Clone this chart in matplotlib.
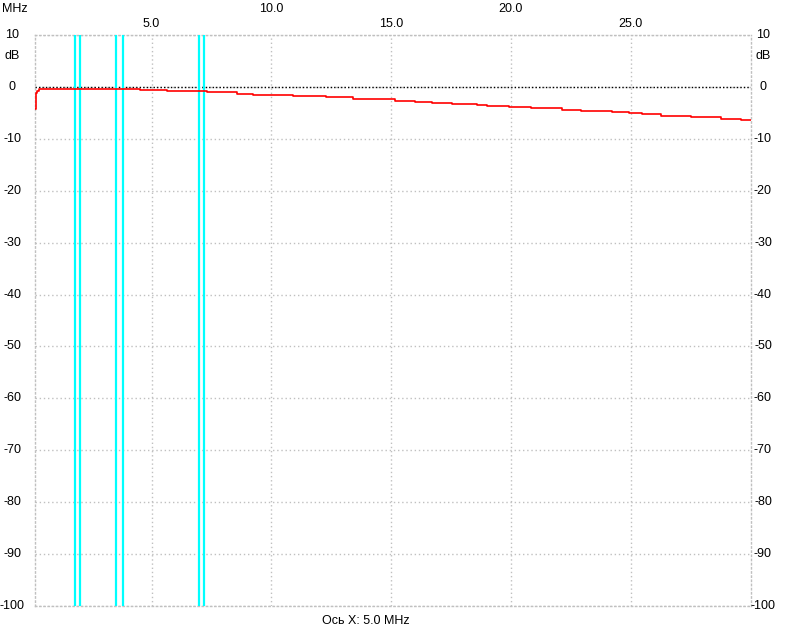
import matplotlib
matplotlib.use('Agg')
import numpy as np
from matplotlib import pyplot as plt
from matplotlib.transforms import blended_transform_factory

plt.rcParams['font.family'] = ['Liberation Sans', 'DejaVu Sans']
plt.rcParams['axes.unicode_minus'] = False

# АЧХ, ступенчатая кривая (МГц, дБ)
freq_mhz = [0.146, 0.16, 0.22, 0.31, 4.52, 5.65, 7.31, 8.56, 9.23, 10.65, 10.9,
            12.3, 13.4, 14.65, 15.15, 15.98, 16.69, 17.52, 18.6, 19.02, 19.94,
            20.85, 22.14, 22.94, 24.23, 24.94, 25.48, 26.27, 27.52, 28.77, 29.6, 30.0]
gain_db = [-4.3, -1.2, -0.8, -0.44, -0.64, -0.83, -1.02, -1.29, -1.48, -1.6, -1.68,
           -1.98, -2.25, -2.37, -2.64, -2.83, -3.08, -3.28, -3.53, -3.66, -3.8,
           -4.1, -4.37, -4.62, -4.87, -5.07, -5.26, -5.53, -5.84, -6.17, -6.4, -6.4]

# границы любительских диапазонов
band_edges = [1.81, 2.0, 3.5, 3.8, 7.0, 7.2]

x_ticks = [5, 10, 15, 20, 25]
x_labels = ['5.0', '10.0', '15.0', '20.0', '25.0']
y_ticks = list(range(-100, 11, 10))

fig = plt.figure(figsize=(7.85, 6.41), dpi=100)
ax = fig.add_axes([35.3 / 785, 1 - 606 / 641, (750.5 - 35.3) / 785, (606 - 35) / 641])

ax.set_xlim(0.146, 30.0)
ax.set_ylim(-100, 10)

grid_kw = dict(color='#c0c0c0', lw=1.0, ls=(0, (1, 2)))
ax.set_xticks(x_ticks)
ax.set_yticks(y_ticks)
ax.grid(True, **grid_kw)
for s in ax.spines.values():
    s.set_color('#c0c0c0')
    s.set_linestyle((0, (1, 2)))
    s.set_linewidth(1.0)
ax.tick_params(length=0, labelbottom=False, labeltop=False, labelleft=False,
               labelright=False)

ax.axhline(0, color='black', lw=1.0, ls=(0, (1, 1.5)), zorder=2)

for f in band_edges:
    ax.axvline(f, color='#00ffff', lw=1.6, zorder=3)

ax.plot(freq_mhz, gain_db, color='red', lw=1.2, drawstyle='steps-post', zorder=4)

# подписи верхней оси в два ряда
tr = blended_transform_factory(ax.transData, fig.transFigure)
for i, (t, lab) in enumerate(zip(x_ticks, x_labels)):
    y = 1 - 24 / 641 if i % 2 == 0 else 1 - 9 / 641
    ax.text(t, y, lab, transform=tr, ha='center', va='center', fontsize=9)

# подписи оси Y слева и справа
try_ = blended_transform_factory(fig.transFigure, ax.transData)
for v in y_ticks:
    ax.text(12 / 785, v, str(v), transform=try_, ha='center', va='center', fontsize=9)
    ax.text(763 / 785, v, str(v), transform=try_, ha='center', va='center', fontsize=9)

fig.text(2 / 785, 1 - 9 / 641, 'MHz', ha='left', va='center', fontsize=9)
fig.text(12 / 785, 1 - 56 / 641, 'dB', ha='center', va='center', fontsize=9)
fig.text(763 / 785, 1 - 56 / 641, 'dB', ha='center', va='center', fontsize=9)
fig.text(366 / 785, 1 - 621 / 641, 'Ось X: 5.0 MHz', ha='center', va='center', fontsize=9)

fig.savefig('out.png', dpi=100, facecolor='white')
